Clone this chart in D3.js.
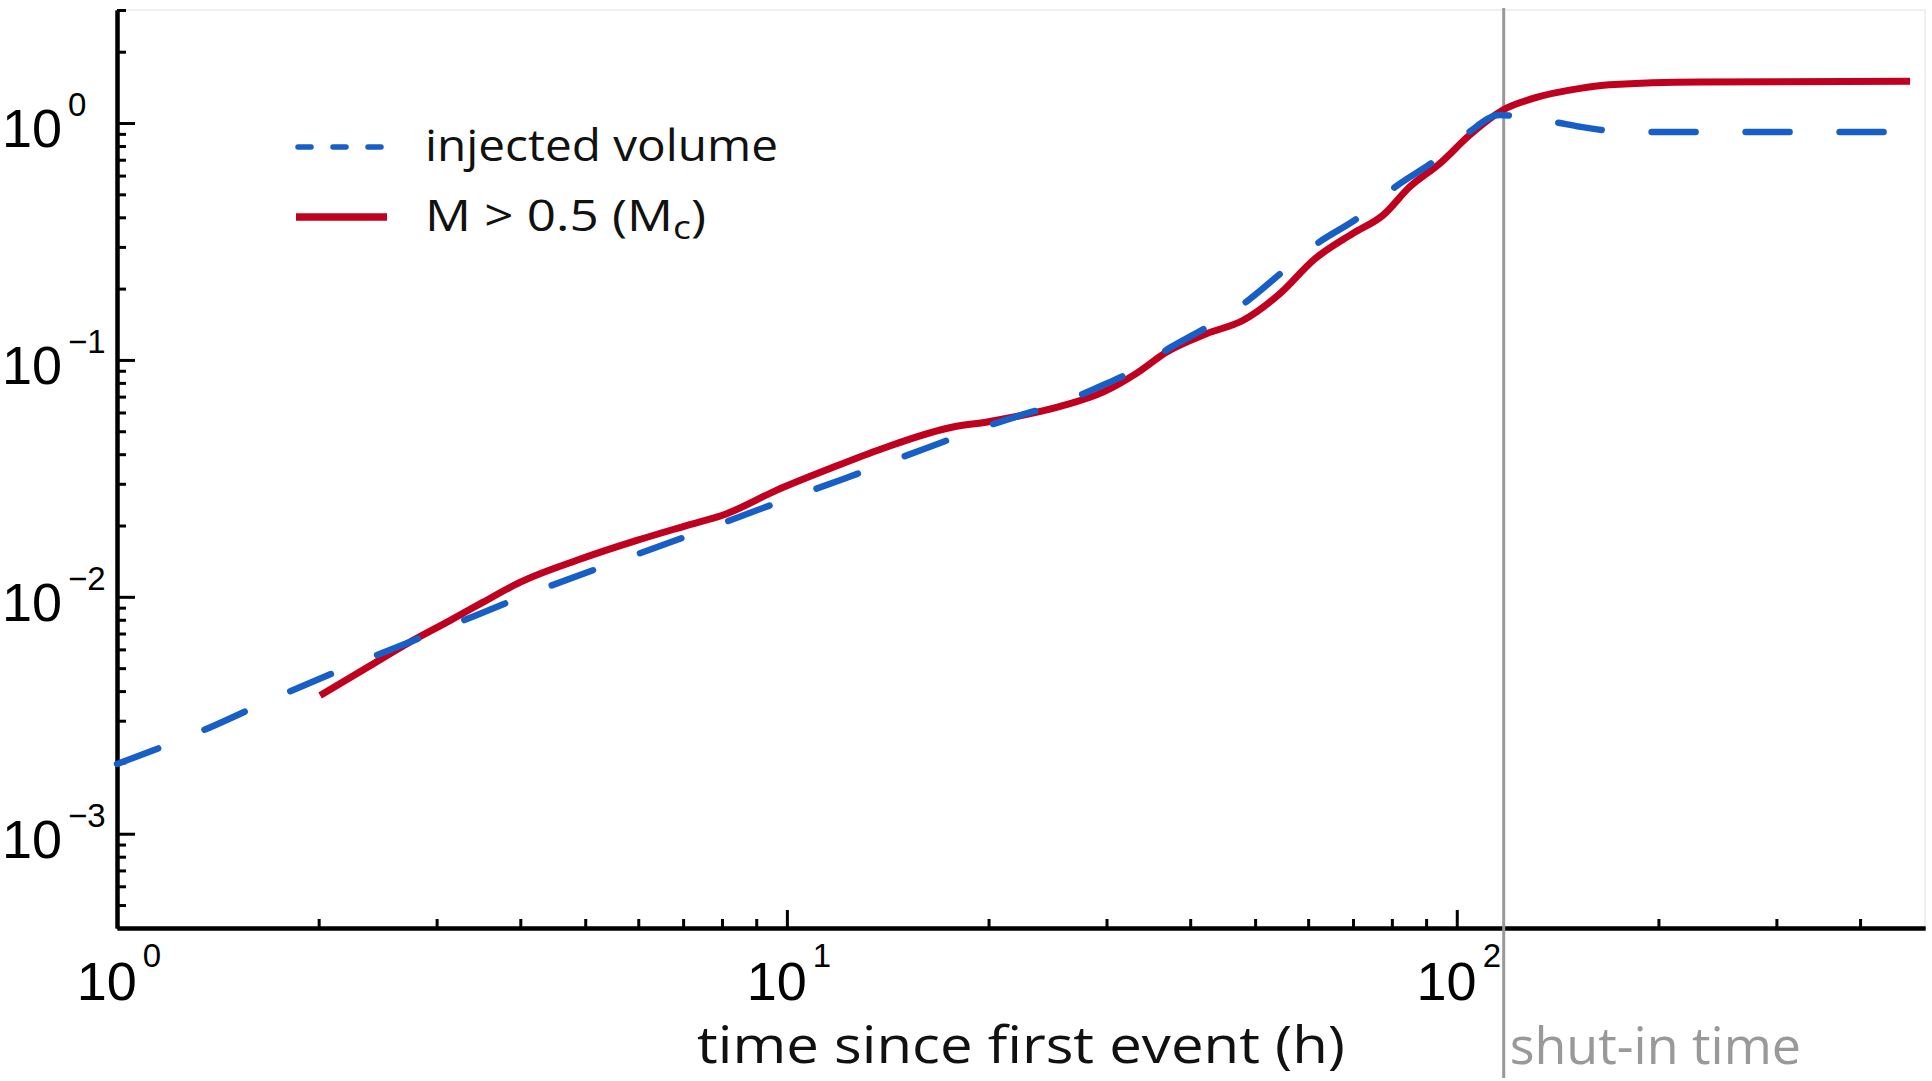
<!DOCTYPE html>
<html lang="en">
<head>
    <meta charset="UTF-8">
    <title>Injected volume vs. events</title>
    <script src="https://d3js.org/d3.v7.min.js"></script>
    <style>
        html, body {
            margin: 0;
            padding: 0;
            background: #fff;
        }
        svg { display: block; }
        .tick-label { font-family: "Liberation Sans", Arial, sans-serif; fill: #000; }
        .txt { font-family: "Open Sans", "Noto Sans", sans-serif; }
    </style>
</head>
<body>
    <svg id="chart"></svg>

    <script>
        // injected volume (dashed blue)
        const injectedHours = [1, 1.324, 1.778, 2.333, 3.09, 4.16, 5.64, 7.26, 9.73, 12.2, 16.1, 19.7, 22.3, 25.9,
            29.2, 33.0, 37.5, 42.8, 48.5, 54.7, 61.4, 72.1, 80.4, 93.3, 104, 115.9, 124.2, 139.3, 152.8, 162, 187.5, 475];
        const injectedVolume = [0.00197, 0.00268, 0.0039, 0.00538, 0.0074, 0.01038, 0.01426, 0.01845, 0.0251, 0.0316,
            0.0423, 0.0521, 0.0583, 0.0665, 0.0769, 0.0904, 0.1135, 0.140, 0.176, 0.233, 0.305, 0.408, 0.530, 0.703,
            0.910, 1.081, 1.064, 1.012, 0.964, 0.940, 0.916, 0.916];

        // events with M > 0.5 (solid red)
        const eventHours = [2.01, 2.39, 2.71, 3.14, 3.52, 4.0, 4.86, 5.97, 7.10, 8.13, 9.66, 11.6, 13.9, 17.7, 19.9,
            21.8, 25.6, 29.7, 33.3, 36.9, 42.3, 48.0, 54.5, 61.1, 70.0, 77.6, 85.1, 94.4, 104.5, 117.2, 130,
            152.8, 169, 231, 475];
        const eventCount = [0.00383, 0.00513, 0.00634, 0.00794, 0.0095, 0.01153, 0.01426, 0.0173, 0.02004, 0.02244,
            0.0282, 0.0348, 0.0423, 0.0521, 0.0547, 0.0574, 0.0637, 0.0733, 0.0880, 0.108, 0.129, 0.147, 0.191,
            0.264, 0.342, 0.408, 0.538, 0.676, 0.889, 1.135, 1.27, 1.40, 1.45, 1.49, 1.50];

        const xMajorTicks = [1, 10, 100];
        const yMajorTicks = [1e-3, 1e-2, 1e-1, 1];
        const shutInHour = 117.5;

        const width = 1932, height = 1081;
        const plotLeft = 117, plotRight = 1925, plotTop = 10, plotBottom = 928;

        const svg = d3.select("#chart").attr("width", width).attr("height", height);

        const x = d3.scaleLog().domain([1, 500]).range([plotLeft, plotRight]);
        const y = d3.scaleLog().domain([4e-4, 3]).range([plotBottom, plotTop]);

        // faint frame top / right
        svg.append("path")
            .attr("d", `M${plotLeft},${plotTop}H${plotRight}V${plotBottom}`)
            .attr("fill", "none").attr("stroke", "#efefef").attr("stroke-width", 2);

        const xMinor = x.ticks().filter(t => !xMajorTicks.includes(t) && t < 500);
        const yMinor = y.ticks().filter(t => !yMajorTicks.some(m => Math.abs(m - t) < 1e-12) && t > 4e-4);

        function styleAxis(g) {
            g.select(".domain").attr("stroke", "#000").attr("stroke-width", 4);
            g.selectAll(".tick line").attr("stroke", "#000").attr("stroke-width", 3);
            g.selectAll(".tick text").remove();
        }

        // x axis
        svg.append("g").attr("transform", `translate(0,${plotBottom})`)
            .call(d3.axisBottom(x).tickValues(xMinor).tickSize(-9).tickSizeOuter(0).tickFormat(""))
            .call(styleAxis);
        svg.append("g").attr("transform", `translate(0,${plotBottom})`)
            .call(d3.axisBottom(x).tickValues(xMajorTicks).tickSize(-18).tickSizeOuter(0).tickFormat(""))
            .call(styleAxis);

        // y axis
        svg.append("g").attr("transform", `translate(${plotLeft},0)`)
            .call(d3.axisLeft(y).tickValues(yMinor).tickSize(-9).tickSizeOuter(0).tickFormat(""))
            .call(styleAxis);
        svg.append("g").attr("transform", `translate(${plotLeft},0)`)
            .call(d3.axisLeft(y).tickValues(yMajorTicks).tickSize(-18).tickSizeOuter(0).tickFormat(""))
            .call(styleAxis);

        // tick labels 10^n
        const expo = v => {
            const e = Math.round(Math.log10(v));
            return e < 0 ? "\u2212" + (-e) : String(e);
        };
        xMajorTicks.forEach(v => {
            const t = svg.append("text").attr("class", "tick-label")
                .attr("x", x(v) + 2).attr("y", 1000).attr("text-anchor", "middle");
            t.append("tspan").attr("font-size", 54).text("10");
            t.append("tspan").attr("font-size", 33).attr("dx", 6).attr("dy", -33).text(expo(v));
        });
        yMajorTicks.forEach(v => {
            const t = svg.append("text").attr("class", "tick-label")
                .attr("x", 2).attr("y", y(v) + 24);
            t.append("tspan").attr("font-size", 54).text("10");
            t.append("tspan").attr("font-size", 33).attr("dx", 6).attr("dy", -31).text(expo(v));
        });

        // shut-in marker
        const xs = x(shutInHour);
        svg.append("line")
            .attr("x1", xs).attr("x2", xs).attr("y1", 8).attr("y2", 1078)
            .attr("stroke", "#999").attr("stroke-width", 3);
        svg.append("text").attr("class", "txt")
            .attr("x", xs + 6).attr("y", 1064)
            .attr("font-size", 52).attr("fill", "#999")
            .text("shut-in time");

        // axis label
        svg.append("text").attr("class", "txt")
            .attr("x", (plotLeft + plotRight) / 2).attr("y", 1063)
            .attr("text-anchor", "middle")
            .attr("font-size", 52).attr("fill", "#111")
            .attr("textLength", 648).attr("lengthAdjust", "spacingAndGlyphs")
            .text("time since first event (h)");

        // curves
        const line = d3.line()
            .x(d => x(d[0]))
            .y(d => y(d[1]))
            .curve(d3.curveMonotoneX);

        svg.append("path")
            .datum(d3.zip(eventHours, eventCount))
            .attr("d", line)
            .attr("fill", "none")
            .attr("stroke", "#c0001f")
            .attr("stroke-width", 7)
            .attr("stroke-linejoin", "round");

        svg.append("path")
            .datum(d3.zip(injectedHours, injectedVolume))
            .attr("d", line)
            .attr("fill", "none")
            .attr("stroke", "#175fc6")
            .attr("stroke-width", 6.5)
            .attr("stroke-linecap", "round")
            .attr("stroke-dasharray", "44,50");

        // legend
        const lg = svg.append("g");
        lg.append("line").attr("x1", 298).attr("x2", 385).attr("y1", 147).attr("y2", 147)
            .attr("stroke", "#175fc6").attr("stroke-width", 5.5)
            .attr("stroke-linecap", "round").attr("stroke-dasharray", "13,22");
        lg.append("line").attr("x1", 296).attr("x2", 387).attr("y1", 217).attr("y2", 217)
            .attr("stroke", "#c0001f").attr("stroke-width", 7.5);
        lg.append("text").attr("class", "txt")
            .attr("x", 425).attr("y", 161).attr("font-size", 44).attr("fill", "#111")
            .attr("textLength", 353).attr("lengthAdjust", "spacingAndGlyphs")
            .text("injected volume");
        const mt = lg.append("text").attr("class", "txt")
            .attr("x", 425).attr("y", 231).attr("font-size", 44).attr("fill", "#111")
            .attr("textLength", 281).attr("lengthAdjust", "spacingAndGlyphs");
        mt.append("tspan").text("M > 0.5 (M");
        mt.append("tspan").attr("font-size", 32).attr("dy", 8).text("c");
        mt.append("tspan").attr("dy", -8).text(")");
    </script>
</body>
</html>
